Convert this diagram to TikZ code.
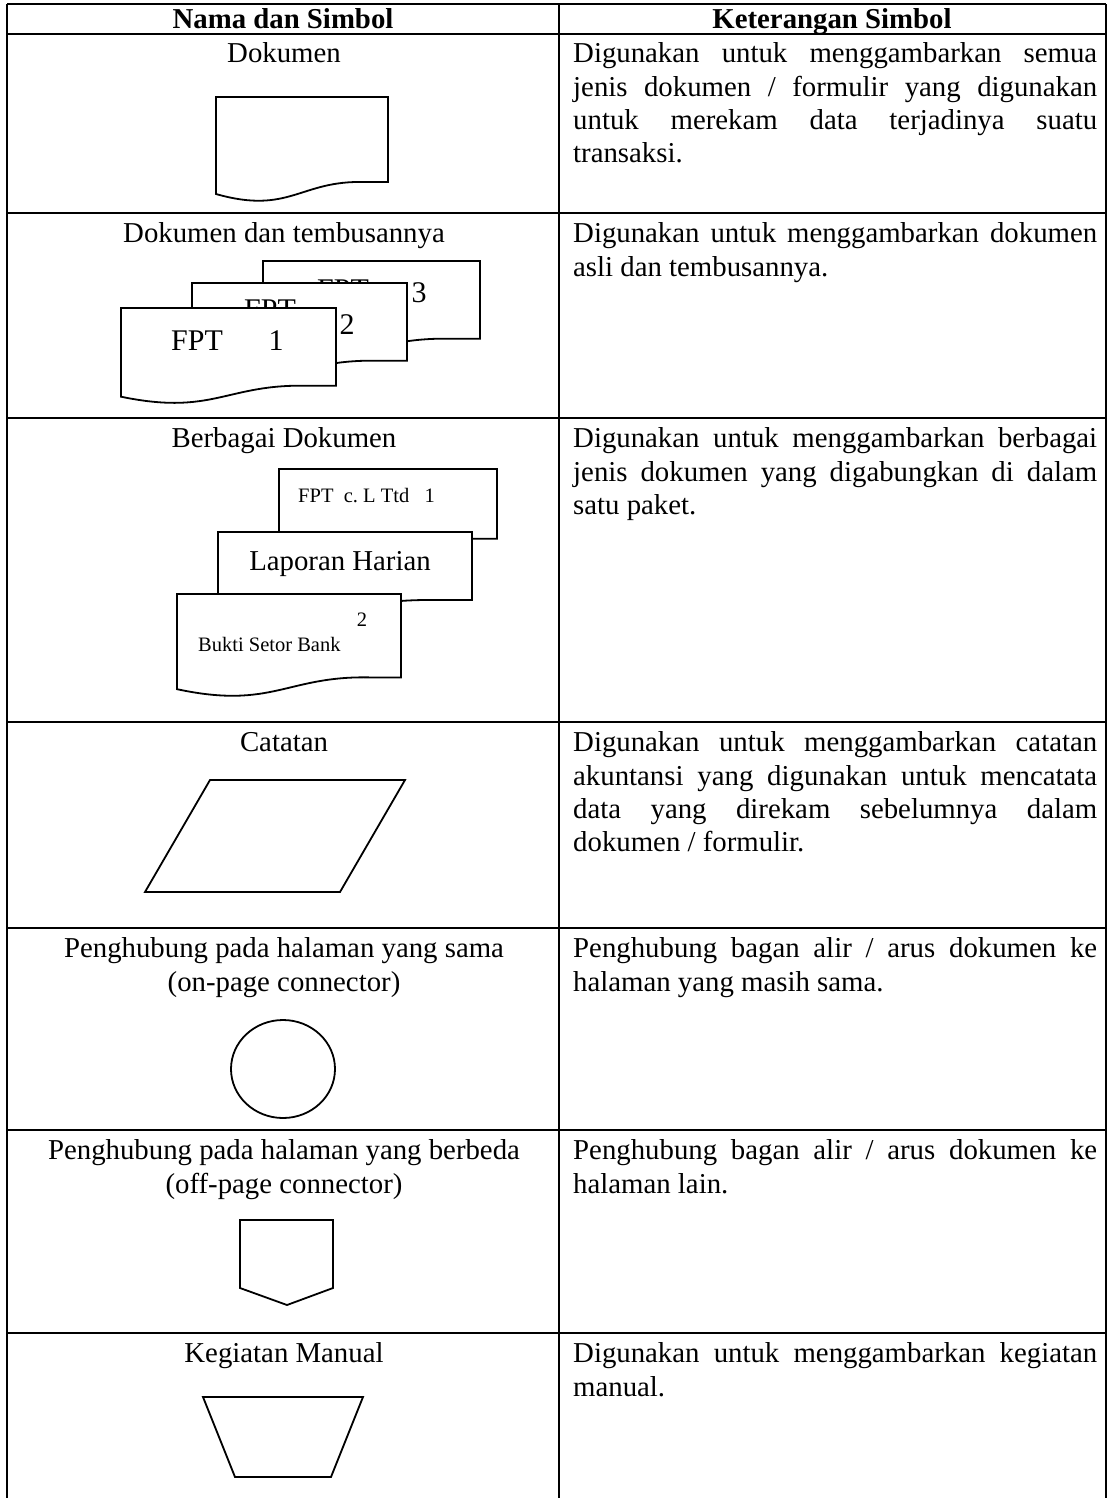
\documentclass[tikz,border=0pt]{standalone}
\usepackage{fontspec}
\setmainfont{Liberation Serif}
\tolerance=10000
\hbadness=10000
\hyphenpenalty=10000
\exhyphenpenalty=10000
\newcommand{\docsym}[4]{\draw[symline, fill=white, shift={(#1,#2)}, xscale=#3, yscale=#4] (0,0) -- (1,0) -- (1,0.81) -- (0.866,0.81) .. controls (0.488,0.79) and (0.43,1.124) .. (0,0.924) -- cycle;}
\begin{document}
\begin{tikzpicture}[x=1pt,y=-1pt]
\tikzset{
  grid/.style={line width=2.4pt},
  symline/.style={line width=1.8pt, line join=miter},
  ttl/.style={anchor=base, inner sep=0, font=\fontsize{28.8}{33.3}\selectfont},
  hdr/.style={anchor=base, inner sep=0, font=\fontsize{28.8}{33.3}\selectfont\bfseries},
  desc/.style={anchor=north west, inner sep=0, text width=524pt, align=justify, font=\fontsize{28.8}{33.3}\selectfont},
  big/.style={anchor=base, inner sep=0, font=\fontsize{30}{34}\selectfont},
  small/.style={inner sep=0, font=\fontsize{20.5}{24}\selectfont},
}
\fill[white] (0,0) rectangle (1109,1498);
\useasboundingbox (0,0) rectangle (1109,1498);

% table grid
\foreach \yy in {4,34,213,418,722,928,1130,1333}
  \draw[grid] (7,\yy) -- (1106,\yy);
\foreach \xx in {7,559,1106}
  \draw[grid] (\xx,4) -- (\xx,1498);

% header
\node[hdr] (h1) at (283,28.5) {Nama dan Simbol};
\node[hdr] (h2) at (832,28.5) {Keterangan Simbol};

% row 1
\node[ttl] (t1) at (284,62.5) {Dokumen};
\docsym{216}{97}{172}{105}
\node[desc] (d1) at (573,39.2) {\strut Digunakan untuk menggambarkan semua\linebreak jenis dokumen / formulir yang digunakan\linebreak untuk merekam data terjadinya suatu\linebreak transaksi.};

% row 2
\node[ttl] (t2) at (284,242.5) {Dokumen dan tembusannya};
\docsym{263}{261}{217}{96}
\node[big] (f3) at (343,299) {FPT};
\node[big] (n3) at (419,302) {3};
\docsym{192}{283}{215}{96}
\node[big] (f2) at (270,319) {FPT};
\node[big] (n2) at (347,334) {2};
\docsym{121}{308}{215}{96}
\node[big] (f1) at (197,350) {FPT};
\node[big] (n1) at (276,350) {1};
\node[desc] (d2) at (573,219.2) {\strut Digunakan untuk menggambarkan dokumen\linebreak asli dan tembusannya.};

% row 3
\node[ttl] (t3) at (284,447.5) {Berbagai Dokumen};
\docsym{279}{469}{218}{86}
\node[small, anchor=base west] (ba) at (298,502) {FPT\ \ c.~L Ttd\ \ \ 1};
\docsym{218}{532}{254}{84}
\node[ttl] (bb) at (340,570) {Laporan Harian};
\docsym{177}{594}{224}{103}
\node[small, anchor=base west] (bc) at (198,651) {Bukti Setor Bank};
\node[small, anchor=base] (bn) at (362,626) {2};
\node[desc] (d3) at (573,424.2) {\strut Digunakan untuk menggambarkan berbagai\linebreak jenis dokumen yang digabungkan di dalam\linebreak satu paket.};

% row 4
\node[ttl] (t4) at (284,751.5) {Catatan};
\draw[symline] (210,780) -- (405,780) -- (340,892) -- (145,892) -- cycle;
\node[desc] (d4) at (573,728.2) {\strut Digunakan untuk menggambarkan catatan\linebreak akuntansi yang digunakan untuk mencatata\linebreak data yang direkam sebelumnya dalam\linebreak dokumen / formulir.};

% row 5
\node[ttl] (t5a) at (284,957.5) {Penghubung pada halaman yang sama};
\node[ttl] (t5b) at (284,991) {(on-page connector)};
\draw[symline] (283,1069) ellipse [x radius=52, y radius=49];
\node[desc] (d5) at (573,934.2) {\strut Penghubung bagan alir / arus dokumen ke\linebreak halaman yang masih sama.};

% row 6
\node[ttl] (t6a) at (284,1159.5) {Penghubung pada halaman yang berbeda};
\node[ttl] (t6b) at (284,1193) {(off-page connector)};
\draw[symline] (240,1220) -- (333,1220) -- (333,1288) -- (287,1305) -- (240,1288) -- cycle;
\node[desc] (d6) at (573,1136.2) {\strut Penghubung bagan alir / arus dokumen ke\linebreak halaman lain.};

% row 7
\node[ttl] (t7) at (284,1362.5) {Kegiatan Manual};
\draw[symline] (203,1397) -- (363,1397) -- (331,1477) -- (235,1477) -- cycle;
\node[desc] (d7) at (573,1339.2) {\strut Digunakan untuk menggambarkan kegiatan\linebreak manual.};
\end{tikzpicture}
\end{document}
